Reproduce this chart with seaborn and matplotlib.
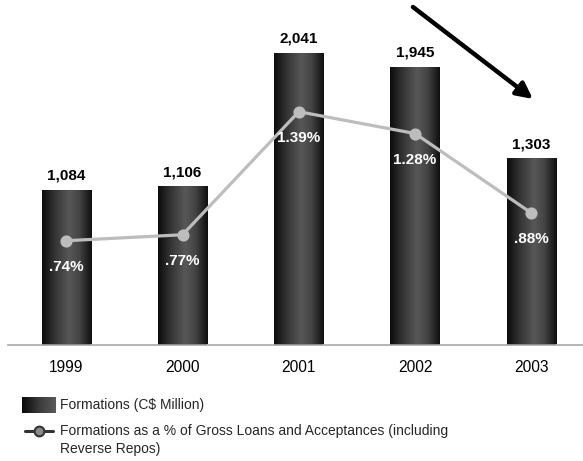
import numpy as np
import matplotlib
matplotlib.use("Agg")
import matplotlib.pyplot as plt
from matplotlib.colors import LinearSegmentedColormap
from matplotlib.lines import Line2D
import seaborn as sns

years = ["1999", "2000", "2001", "2002", "2003"]
formations = [1084, 1106, 2041, 1945, 1303]
pct = [0.74, 0.77, 1.39, 1.28, 0.88]
bar_label_text = "Formations (C$ Million)"
line_label_text = "Formations as a % of Gross Loans and Acceptances (including\nReverse Repos)"

sns.set_theme(style="white")
plt.rcParams["font.family"] = ["Liberation Sans", "DejaVu Sans"]

fig = plt.figure(figsize=(5.83, 4.61), dpi=100)
ax = fig.add_axes([8.2 / 583, 116.5 / 461, 581.2 / 583, 344.5 / 461])

sns.barplot(x=years, y=formations, ax=ax, color="black", width=0.424,
            saturation=1, edgecolor="none", errorbar=None)

cmap = LinearSegmentedColormap.from_list(
    "cyl", [(0, "#0c0c0c"), (0.25, "#333333"), (0.55, "#585858"), (0.75, "#444444"), (1, "#0e0e0e")])
grad = np.linspace(0, 1, 256).reshape(1, -1)
for p in ax.patches:
    x, y, w, h = p.get_x(), p.get_y(), p.get_width(), p.get_height()
    im = ax.imshow(grad, extent=[x, x + w, y, y + h], aspect="auto", cmap=cmap,
                   zorder=p.get_zorder() + 0.1, interpolation="bicubic")
    im.set_clip_path(p)

ax.bar_label(ax.containers[0], labels=[f"{v:,}" for v in formations], padding=5,
             fontsize=11, fontweight="bold", color="black")

ax.set_xlim(-0.5, 4.5)
ax.set_ylim(0, 2411.5)
for s in ["top", "left", "right"]:
    ax.spines[s].set_visible(False)
ax.spines["bottom"].set_color("#a8a8a8")
ax.spines["bottom"].set_linewidth(1.2)
ax.set_yticks([])
ax.tick_params(axis="x", length=0, pad=11.5, labelsize=11.2, colors="black")
ax.set_xlabel("")
ax.set_ylabel("")

ax2 = ax.twinx()
sns.pointplot(x=years, y=pct, ax=ax2, color="#bdbdbd", markers="o", linestyles="-",
              errorbar=None, markersize=7, linewidth=2.3)
ax2.set_xlim(-0.5, 4.5)
ax2.set_ylim(0.2171, 1.9527)
ax2.set_yticks([])
for s in ["top", "left", "right", "bottom"]:
    ax2.spines[s].set_visible(False)
ax2.set_ylabel("")
for i, v in enumerate(pct):
    ax2.annotate(f"{v:.2f}%".lstrip("0"), (i, v), xytext=(0, -19), textcoords="offset points",
                 ha="center", va="center", color="white", fontsize=11, fontweight="bold")

# trend arrow
ax2.annotate("", xy=(4.014, 0.7126), xytext=(2.982, 0.9797),
             xycoords=ax.get_xaxis_transform(), textcoords=ax.get_xaxis_transform(),
             arrowprops=dict(arrowstyle="-|>", lw=3.2, color="black", mutation_scale=24,
                             shrinkA=0, shrinkB=0), annotation_clip=False)

# legend
lax = fig.add_axes([22 / 583, 1 - 413 / 461, 33 / 583, 16 / 461])
lgrad = LinearSegmentedColormap.from_list("lg", ["#080808", "#3a3a3a", "#5a5a5a"])
lax.imshow(grad, aspect="auto", cmap=lgrad, extent=[0, 1, 0, 1])
lax.axis("off")
fig.text(60 / 583, 1 - 405 / 461, bar_label_text, fontsize=10, va="center", ha="left")

ly = 1 - 431 / 461
fig.add_artist(Line2D([25 / 583, 39 / 583, 53 / 583], [ly, ly, ly], transform=fig.transFigure,
                      color="#333333", lw=2.2, marker="o", markevery=[1], markersize=7,
                      markerfacecolor="#8a8a8a", markeredgecolor="#333333", markeredgewidth=1.5))
fig.text(60 / 583, 1 - 424 / 461, line_label_text, fontsize=10, va="top", ha="left",
         linespacing=1.35)

fig.savefig("out.png", dpi=100)
